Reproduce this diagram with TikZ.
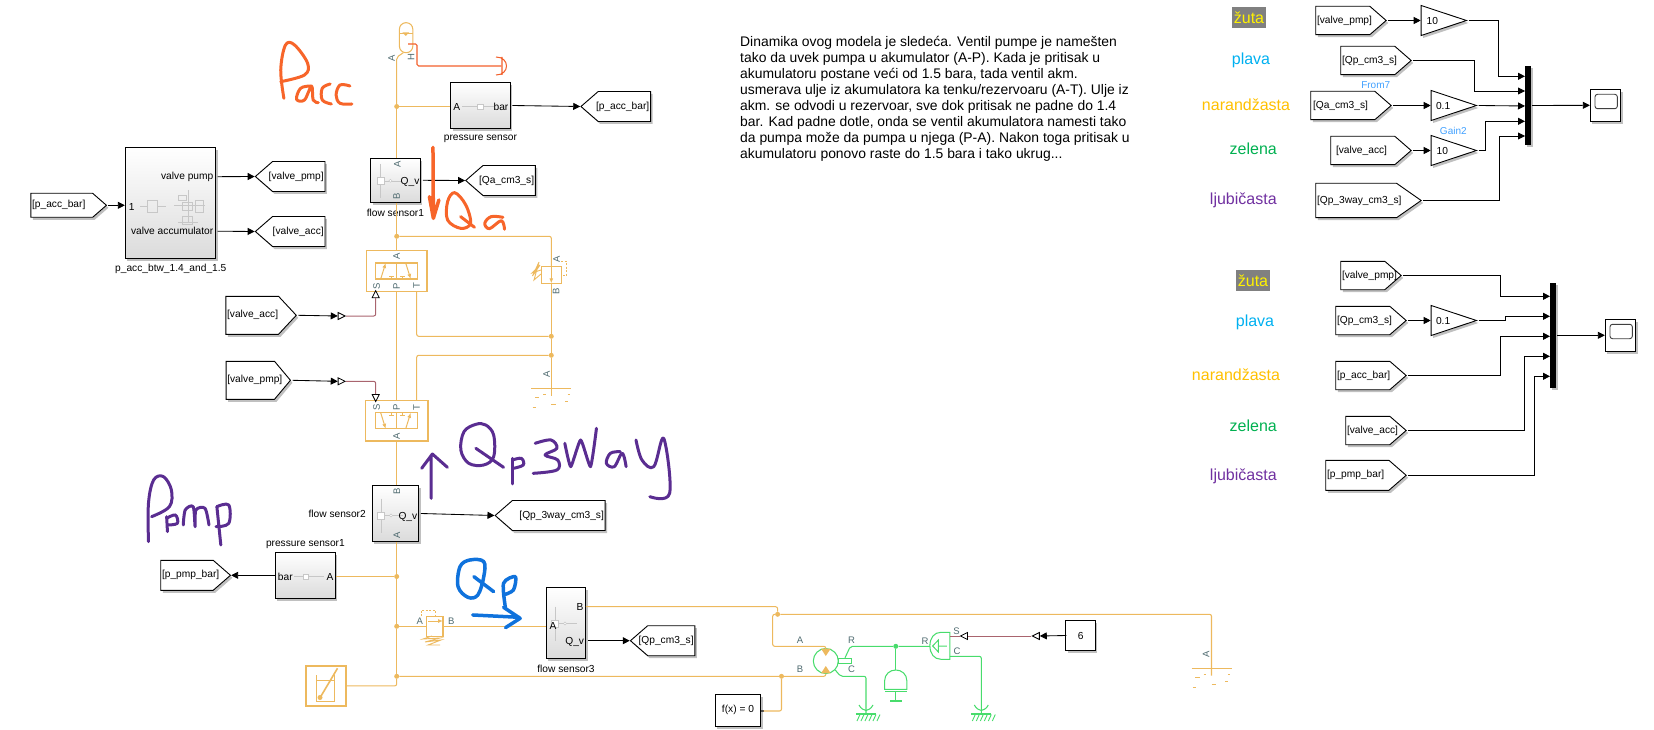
\documentclass[tikz,border=0pt]{standalone}
\usepackage{fontspec}
\setmainfont{Liberation Sans}
\usetikzlibrary{arrows.meta, calc, positioning, shadows, shapes.geometric, shapes.symbols}
\definecolor{hydro}{HTML}{EDB95E}
\definecolor{rotgreen}{HTML}{48DC6C}
\definecolor{thermred}{HTML}{F2602B}
\definecolor{physpink}{HTML}{A9646E}
\definecolor{porttext}{HTML}{4F6B70}
\definecolor{penorange}{HTML}{F7652A}
\definecolor{penpurple}{HTML}{5A2D91}
\definecolor{penblue}{HTML}{0F72DC}
\definecolor{notegray}{HTML}{808080}
\definecolor{tipblue}{HTML}{40A0FF}
\tikzset{
  simshadow/.style = {drop shadow = {shadow xshift = 2pt, shadow yshift = -2.5pt, fill = black!45, opacity = .55}},
  sig/.style = {line width = .85pt, -{Triangle[length = 7pt, width = 7pt]}},
  plainsig/.style = {line width = .85pt},
  hyd/.style = {draw = hydro, line width = 1.05pt, rounded corners = 2pt},
  rot/.style = {draw = rotgreen, line width = 1.05pt, rounded corners = 2pt},
  phys/.style = {draw = physpink, line width = 1pt, rounded corners = 2pt},
  jct/.style = {circle, fill = #1, inner sep = 0pt, minimum size = 5pt},
  jct/.default = hydro,
  block/.style = {rectangle, draw, fill = white, line width = .9pt, inner sep = 0pt, simshadow},
  subsys/.style = {rectangle, draw, line width = .9pt, inner sep = 0pt, top color = white, bottom color = black!14, simshadow},
  hydbox/.style = {rectangle, draw = hydro, line width = 1.3pt, fill = white, inner sep = 0pt},
  tagE/.style = {signal, signal to = east, draw, fill = white, line width = .9pt, inner sep = 0pt,
    minimum height = 28.4pt, signal pointer angle = 82, anchor = west, simshadow},
  tagW/.style = {signal, signal to = west, draw, fill = white, line width = .9pt, inner sep = 0pt,
    minimum height = 30pt, signal pointer angle = 82, anchor = east, simshadow},
  tagtext/.style = {font = \fontsize{10.2}{12}\selectfont, inner sep = 1.5pt},
  gain/.style = {isosceles triangle, isosceles triangle stretches, draw, fill = white, line width = .9pt, inner sep = 0pt,
    minimum height = 45.3pt, minimum width = 30pt, anchor = west, simshadow, font = \fontsize{10.2}{12}\selectfont},
  convtri/.style = {isosceles triangle, isosceles triangle stretches, draw, fill = white, line width = .8pt, inner sep = 0pt,
    minimum height = 7pt, minimum width = 7pt},
  muxbar/.style = {rectangle, fill = black, inner sep = 0pt, minimum width = 6pt, simshadow},
  blktext/.style = {font = \fontsize{10.2}{12}\selectfont, inner sep = 0pt},
  porttxt/.style = {font = \fontsize{9.5}{11}\selectfont, text = porttext, inner sep = 0pt},
  colorword/.style = {font = \fontsize{16}{18}\selectfont, inner sep = 0pt},
  smalltip/.style = {font = \fontsize{10}{12}\selectfont, text = tipblue, inner sep = 0pt},
  faint/.style = {draw = black!22, line width = .5pt},
  ink/.style = {line width = 3pt, line cap = round, line join = round},
  valvecore/.pic = {
    \draw[hydro, line width = 1.2pt] (-21.5,-8) rectangle (21,8) (-.5,-8) -- (-.5,8);
    \draw[hydro, line width = 1pt, -{Latex[length = 5pt, width = 4pt]}] (-16,8) -- (-11,-8);
    \draw[hydro, line width = 1pt, -{Latex[length = 5pt, width = 4pt]}] (9,-8) -- (14,8);
    \draw[hydro, line width = 1pt] (-5,8) -- (-5,5.5) (-7.5,5.5) -- (-2.5,5.5) (6,8) -- (6,5.5) (3.5,5.5) -- (8.5,5.5);
  },
  tanksym/.pic = {
    \draw[hydro, line width = 1pt] (-20,0) -- (20,0);
    \draw[hydro, line width = 1pt] (-16.3,9.4) -- (-12,9.4) (-8,5.7) -- (-5.3,5.7) (16.4,5.7) -- (18.7,5.7)
      (0,15.7) -- (4.7,15.7) (13.7,13) -- (16.4,13) (-18.6,19.4) -- (-15.6,19.4);
  },
  mechref/.pic = {
    \draw[rotgreen, line width = 1.05pt] (-7,-9) .. controls (-5,-5) and (-2,-4) .. (0,-3.5) .. controls (2,-4) and (5,-5) .. (7,-9);
    \draw[rotgreen, line width = 1.05pt] (-10,0) -- (10,0);
    \foreach \hx in {-8,-4,0,4,8,12}
      \draw[rotgreen, line width = .9pt] (\hx-1,7) -- (\hx+2,.5);
  },
  flowicon/.pic = {
    \draw[faint] (0,-17) -- (0,17) (0,0) -- (22,0);
    \draw[faint, fill = white] (-3.5,-3.5) rectangle (3.5,3.5);
    \draw[faint, fill = white] (10,0) circle (1.5);
  }
}
\begin{document}
\begin{tikzpicture}[x = 1pt, y = -1pt]
  \useasboundingbox (0,0) rectangle (1654,730);

  % note and colour words
  \node[anchor = north west, inner sep = 0pt, align = left, font = \fontsize{13.9}{16}\selectfont] (note) at (740,36.5)
    {Dinamika ovog modela je sledeća. Ventil pumpe je namešten\\
     tako da uvek pumpa u akumulator (A-P). Kada je pritisak u\\
     akumulatoru postane veći od 1.5 bara, tada ventil akm.\\
     usmerava ulje iz akumulatora ka tenku/rezervoaru (A-T). Ulje iz\\
     akm. se odvodi u rezervoar, sve dok pritisak ne padne do 1.4\\
     bar. Kad padne dotle, onda se ventil akumulatora namesti tako\\
     da pumpa može da pumpa u njega (P-A). Nakon toga pritisak u\\
     akumulatoru ponovo raste do 1.5 bara i tako ukrug...};

  \node[colorword, fill = notegray, text = yellow, minimum width = 33.5pt, minimum height = 20.5pt] (wordYa) at (1249,17.5) {žuta};
  \node[colorword, text = {rgb,255:red,0;green,176;blue,240}] (wordBa) at (1251,60) {plava};
  \node[colorword, text = {rgb,255:red,255;green,192;blue,0}] (wordOa) at (1246,104.7) {narandžasta};
  \node[colorword, text = {rgb,255:red,0;green,176;blue,80}] (wordGa) at (1253.3,149) {zelena};
  \node[colorword, text = {rgb,255:red,112;green,48;blue,160}] (wordPa) at (1243.3,200.7) {ljubičasta};
  \node[colorword, fill = notegray, text = yellow, minimum width = 33.5pt, minimum height = 20.5pt] (wordYb) at (1253,280.5) {žuta};
  \node[colorword, text = {rgb,255:red,0;green,176;blue,240}] (wordBb) at (1255,322.7) {plava};
  \node[colorword, text = {rgb,255:red,255;green,192;blue,0}] (wordOb) at (1236,374.3) {narandžasta};
  \node[colorword, text = {rgb,255:red,0;green,176;blue,80}] (wordGb) at (1253.3,425.7) {zelena};
  \node[colorword, text = {rgb,255:red,112;green,48;blue,160}] (wordPb) at (1243.3,476.7) {ljubičasta};

  % upper scope
  \node[tagE, minimum width = 70.4pt, label = {[tagtext, anchor = west]west:[valve\_pmp]}] (fromPmpA) at (1315.3,20.5) {};
  \node[tagE, minimum width = 70.4pt, label = {[tagtext, anchor = west]west:[Qp\_cm3\_s]}] (fromQpA) at (1340.3,60.5) {};
  \node[tagE, minimum width = 80.4pt, label = {[tagtext, anchor = west, xshift = 1pt]west:[Qa\_cm3\_s]}] (fromQaA) at (1310.3,105.5) {};
  \node[tagE, minimum width = 80.4pt, label = {[tagtext, anchor = west, xshift = 4pt]west:[valve\_acc]}] (fromAccA) at (1330.3,150.5) {};
  \node[tagE, minimum width = 105.4pt, minimum height = 34.4pt, signal pointer angle = 70, label = {[tagtext, anchor = west]west:[Qp\_3way\_cm3\_s]}] (from3wayA) at (1315.3,200.5) {};

  \node[gain] (gainPmp) at (1420.7,20.5) {10};
  \node[gain] (gainQa) at (1430.7,105.5) {0.1};
  \node[gain] (gainAcc) at (1430.7,150.5) {10};
  \node[smalltip] (tipFrom) at (1375.7,84.7) {From7};
  \node[smalltip] (tipGain) at (1453.3,130.7) {Gain2};

  \node[muxbar, minimum height = 79pt] (muxA) at (1528,105.5) {};
  \node[block, minimum width = 30.4pt, minimum height = 32pt] (scopeA) at (1605.5,105.3) {};
  \draw[line width = .9pt, rounded corners = 2.5pt, draw = black!75] (1595,94.3) rectangle (1617.3,108.7);

  \foreach \mx/\my/\mn in {1525/76.3/1, 1525/91/2, 1525/106/3, 1525/121.3/4, 1525/136/5}
    \coordinate (mA\mn) at (\mx,\my);

  \draw[sig] (fromPmpA.east) ++(1,0) -- (gainPmp.west);
  \draw[sig] (gainPmp.east) ++(1,0) -| (1498.3,76.3) -- (mA1);
  \draw[sig] (fromQpA.east) ++(1,0) -| (1474.7,91) -- (mA2);
  \draw[sig] (fromQaA.east) ++(1,0) -- (gainQa.west);
  \draw[sig] (gainQa.east) ++(1,0) -- (mA3);
  \draw[sig] (fromAccA.east) ++(1,0) -- (gainAcc.west);
  \draw[sig] (gainAcc.east) ++(1,0) -| (1485.3,121.3) -- (mA4);
  \draw[sig] (from3wayA.east) ++(1,0) -| (1499.3,136) -- (mA5);
  \draw[sig] (muxA.east) ++(1,0) -- (scopeA.west);

  % lower scope
  \node[tagE, minimum width = 60.4pt, label = {[tagtext, anchor = west]west:[valve\_pmp]}] (fromPmpB) at (1340.3,275.5) {};
  \node[tagE, minimum width = 70.4pt, label = {[tagtext, anchor = west]west:[Qp\_cm3\_s]}] (fromQpB) at (1335.3,320.5) {};
  \node[tagE, minimum width = 70.4pt, label = {[tagtext, anchor = west]west:[p\_acc\_bar]}] (fromBarB) at (1335.3,375.5) {};
  \node[tagE, minimum width = 60.4pt, label = {[tagtext, anchor = west]west:[valve\_acc]}] (fromAccB) at (1345.3,430.5) {};
  \node[tagE, minimum width = 80.4pt, minimum height = 30pt, label = {[tagtext, anchor = west]west:[p\_pmp\_bar]}] (fromPmpbarB) at (1325.3,475.3) {};

  \node[gain] (gainQp) at (1430.7,320.5) {0.1};
  \node[muxbar, minimum height = 104.7pt] (muxB) at (1553,335.3) {};
  \node[block, minimum width = 30.4pt, minimum height = 32pt] (scopeB) at (1620.5,335.3) {};
  \draw[line width = .9pt, rounded corners = 2.5pt, draw = black!75] (1610,324.3) rectangle (1632.3,338.7);

  \foreach \mx/\my/\mn in {1550/296.3/1, 1550/316.3/2, 1550/336.3/3, 1550/356.3/4, 1550/376.3/5}
    \coordinate (mB\mn) at (\mx,\my);

  \draw[sig] (fromPmpB.east) ++(1,0) -| (1500.3,296.3) -- (mB1);
  \draw[sig] (fromQpB.east) ++(1,0) -- (gainQp.west);
  \draw[sig] (gainQp.east) ++(1,0) -| (1505.3,316.3) -- (mB2);
  \draw[sig] (fromBarB.east) ++(1,0) -| (1500.3,336.3) -- (mB3);
  \draw[sig] (fromAccB.east) ++(1,0) -| (1524.3,356.3) -- (mB4);
  \draw[sig] (fromPmpbarB.east) ++(1,0) -| (1534.3,376.3) -- (mB5);
  \draw[sig] (muxB.east) ++(1,0) |- (scopeB.west);

  % subsystems
  \node[subsys, minimum width = 90.2pt, minimum height = 111pt] (logicBlk) at (170.4,202.8) {};
  \node[blktext, anchor = east] (lblVpump) at (213.5,176.7) {valve pump};
  \node[blktext, anchor = east] (lblVacc) at (213.5,231.2) {valve accumulator};
  \node[blktext] (lblOne) at (131.7,206.7) {1};
  \node[blktext] (lblLogic) at (170.8,269) {p\_acc\_btw\_1.4\_and\_1.5};
  \draw[faint] (140,206) -- (147,206) (157,206) -- (166,206) (174,205) -- (205,205) (188,190) -- (188,222) (178,222) -- (198,222);
  \draw[faint] (147,200) rectangle (157,212) (178,195) rectangle (186,200) (182,202) rectangle (192,210) (195,200) rectangle (203,212) (182,216) rectangle (192,224);

  \node[tagE, minimum width = 75.6pt, minimum height = 24pt, label = {[tagtext, anchor = west]west:[p\_acc\_bar]}] (fromBarL) at (30.4,205.3) {};
  \node[tagW, minimum width = 69.6pt, label = {[tagtext, anchor = east]east:[valve\_pmp]}] (gotoPmp) at (325.4,176.5) {};
  \node[tagW, minimum width = 69.6pt, label = {[tagtext, anchor = east]east:[valve\_acc]}] (gotoAcc) at (325.4,231.5) {};
  \draw[sig] (fromBarL.east) ++(1,0) -- (logicBlk.west |- fromBarL.east);
  \draw[sig] (lblVpump.east) ++(4,0) -- (gotoPmp.west);
  \draw[sig] (lblVacc.east) ++(4,0) -- (gotoAcc.west);

  \node[subsys, minimum width = 59.2pt, minimum height = 45.3pt] (pressA) at (480.4,105.5) {};
  \node[blktext] (lblPaA) at (456.7,106.5) {A};
  \node[blktext] (lblPaBar) at (501,106.5) {bar};
  \node[blktext] (lblPa) at (480.4,139) {pressure sensor};
  \draw[faint] (462,106.3) -- (494,106.3);
  \draw[faint, fill = white] (477.5,104) rectangle (483,109);
  \node[tagW, minimum width = 69.6pt, label = {[tagtext, anchor = east]east:[p\_acc\_bar]}] (gotoBar) at (651,106.5) {};
  \draw[sig] (pressA.east) ++(2,0) -- (gotoBar.west);

  \node[subsys, minimum width = 49.8pt, minimum height = 44pt] (flowA) at (395.4,180.3) {};
  \pic at (380.4,180.8) {flowicon};
  \node[blktext] (lblFaQ) at (410,181.5) {Q\_v};
  \node[blktext] (lblFa) at (395.4,212.7) {flow sensor1};
  \node[tagW, minimum width = 69.6pt, label = {[tagtext, anchor = east]east:[Qa\_cm3\_s]}] (gotoQa) at (535.8,180.5) {};
  \draw[sig] (flowA.east) ++(2,0) -- (gotoQa.west);

  \node[subsys, minimum width = 46.2pt, minimum height = 55.6pt] (flowB) at (395.4,513.5) {};
  \pic at (381,515.5) {flowicon};
  \node[blktext] (lblFbQ) at (407.9,516.7) {Q\_v};
  \node[blktext, anchor = east] (lblFb) at (366,513.7) {flow sensor2};
  \node[tagW, minimum width = 110pt, label = {[tagtext, anchor = east]east:[Qp\_3way\_cm3\_s]}] (goto3way) at (605.6,515.5) {};
  \draw[sig] (flowB.east) ++(2,0) -- (goto3way.west);

  \node[subsys, minimum width = 60.1pt, minimum height = 46pt] (pressB) at (305.4,575.3) {};
  \node[blktext] (lblPbA) at (330,576.7) {A};
  \node[blktext] (lblPbBar) at (285.3,576.7) {bar};
  \node[blktext] (lblPb) at (305.4,544) {pressure sensor1};
  \draw[faint] (294,576.3) -- (324,576.3);
  \draw[faint, fill = white] (303,574) rectangle (308,579);
  \node[tagE, minimum width = 69.7pt, minimum height = 30pt, label = {[tagtext, anchor = west]west:[p\_pmp\_bar]}] (gotoPbar) at (160.3,575.3) {};
  \draw[sig] (pressB.west) -- (gotoPbar.east);

  \node[subsys, minimum width = 39.5pt, minimum height = 71.4pt] (flowC) at (566,623) {};
  \pic at (555,623.5) {flowicon};
  \node[blktext] (lblFcQ) at (574.7,641.7) {Q\_v};
  \node[blktext] (lblFcB) at (579.9,606.7) {B};
  \node[blktext] (lblFcA) at (553,626.3) {A};
  \node[blktext] (lblFc) at (566,669) {flow sensor3};
  \node[tagW, minimum width = 64.4pt, label = {[tagtext, anchor = east]east:[Qp\_cm3\_s]}] (gotoQp) at (695.3,640.7) {};
  \draw[sig] (flowC.east |- gotoQp.west) ++(2,0) -- (gotoQp.west);

  % hydraulic side
  \foreach \jn/\jx/\jy in {jAcc/396.7/106.5, jTop/396.7/236.3, jRet/551.3/336.3, jRetb/551.3/355.3, jPp/396.7/576.5,
      jChk/396.7/626.3, jTnk/396.7/676.3, jMotor/777.6/614.3, jSolver/781.5/676.3}
    \node[jct] (\jn) at (\jx,\jy) {};

  \node[draw = hydro, line width = 1.05pt, rounded corners = 6.5pt, fill = white, inner sep = 0pt, minimum width = 13.4pt, minimum height = 30pt] (accum) at (406.1,37.7) {};
  \draw[hydro, line width = .8pt] (399.4,33.5) -- (412.8,33.5);
  \fill[hydro] (402.5,32.5) -- (409,32.5) -- (405.8,36) -- cycle;
  \coordinate (accA) at (403.3,52.7);
  \draw[hyd] (accA) -- (396.7,57.3) -- (jAcc);
  \draw[hyd] (jAcc) -- (pressA.west |- jAcc);
  \draw[hyd] (jAcc) -- (jAcc |- flowA.north);
  \draw[hyd] (jTop |- flowA.south) -- (jTop);

  \coordinate (accH) at (408,44);
  \node[inner sep = 0pt] (thermRef) at (502,66) {};
  \draw[thermred, line width = 1.05pt, rounded corners = 1.5pt] (accH) -| (417,66) -- (thermRef);
  \draw[thermred, line width = 1.05pt] (502,57) -- (502,75) (496,57) .. controls (510,57) and (510,75) .. (496,75);

  \node[hydbox, minimum width = 60.5pt, minimum height = 40.5pt] (valveAcc) at (396.7,271) {};
  \pic at (396.7,271) {valvecore};
  \node[hydbox, minimum width = 62.5pt, minimum height = 40.5pt] (valvePmp) at (396.7,420.8) {};
  \pic[yscale = -1] at (396.7,420.8) {valvecore};
  \draw[hyd] (jTop) -- (valveAcc.north);
  \draw[hyd] (valveAcc.south) -- (valvePmp.north);
  \draw[hyd] (valvePmp.south) -- (jPp |- flowB.north);
  \draw[hyd] (jPp |- flowB.south) -- (jPp) -- (jChk) -- (jTnk);

  \node[draw = hydro, line width = 1.05pt, inner sep = 0pt, fill = white, minimum width = 20pt, minimum height = 16.6pt] (relief) at (551.3,275) {};
  \draw[hyd] (jTop) -| (relief.north);
  \draw[hyd] (relief.south) -- (jRet) -- (jRetb);
  \draw[hydro, line width = 1pt, -{Latex[length = 5pt, width = 4pt]}] (551.3,266.7) -- (551.3,283.3);
  \draw[hydro, line width = 1pt, dashed, dash pattern = on 2pt off 1.5pt] (561,261.7) -- (566.7,261.7) -- (566.7,275) -- (561,275);
  \draw[hydro, line width = .9pt] (541,270) -- (532,273) -- (540,265) -- (532.5,276) -- (539,262) -- (534,280) -- (541,274);
  \coordinate (vaT) at (416.7,291.3);
  \coordinate (vpT) at (416.7,400.6);
  \draw[hyd] (vaT) |- (jRet);
  \draw[hyd] (jRetb) -| (vpT);
  \coordinate (tankA) at (551.3,395.7);
  \draw[hyd] (jRetb) -- (tankA);
  \pic at (551.3,388.3) {tanksym};

  \node[convtri, shape border rotate = 90] (inValveA) at (375.7,295.5) {};
  \node[convtri] (cvValveA) at (340.3,316) {};
  \node[convtri, shape border rotate = 270] (inValveP) at (375.7,396.7) {};
  \node[convtri] (cvValveP) at (340.3,381.3) {};
  \draw[phys] (cvValveA.east) -| (inValveA.south);
  \draw[phys] (cvValveP.east) -| (inValveP.north);
  \node[tagE, minimum width = 70.4pt, minimum height = 38pt, signal pointer angle = 94, label = {[tagtext, anchor = west]west:[valve\_acc]}] (fromAcc) at (225.4,315.3) {};
  \node[tagE, minimum width = 64.4pt, minimum height = 38pt, signal pointer angle = 100, label = {[tagtext, anchor = west]west:[valve\_pmp]}] (fromPmp) at (225.6,380.3) {};
  \draw[sig] (fromAcc.east) ++(1.5,0) -- (cvValveA.west);
  \draw[sig] (fromPmp.east) ++(1.5,0) -- (cvValveP.west);

  \draw[hyd] (jPp) -- (pressB.east |- jPp);

  \node[draw = hydro, line width = 1.05pt, fill = white, inner sep = 0pt, minimum width = 16.6pt, minimum height = 20.3pt] (chkValve) at (434.7,626.3) {};
  \draw[hyd] (jChk) -- (chkValve.west);
  \draw[hyd] (chkValve.east) -- (flowC.west |- chkValve.east);
  \draw[hydro, line width = 1pt, -{Latex[length = 5pt, width = 4pt]}] (428,621) -- (443,621);
  \draw[hydro, line width = 1pt, dash pattern = on 2pt off 1.5pt] (421.3,616) -- (421.3,610) -- (435,610) -- (435,616);
  \draw[hydro, line width = .9pt] (432,636) -- (423,639) -- (440,638) -- (425,642) -- (441,640) -- (428,645) -- (440,645);

  \node[draw = hydro, line width = 1.6pt, fill = white, inner sep = 0pt, minimum width = 40.4pt, minimum height = 40.3pt] (tankBlk) at (326,685.9) {};
  \draw[hydro, line width = 1pt] (316.5,675) -- (316.5,701.7) -- (334.7,701.7) -- (334.7,675) (316.5,680) -- (334.7,680);
  \draw[hydro, line width = 1.6pt] (319.7,698.3) -- (337.5,668.3);
  \fill[hydro] (320,697.5) circle (2.5);
  \draw[hyd] (tankBlk.east) -| (jTnk);

  \node[draw = rotgreen, circle, line width = 1.05pt, fill = white, inner sep = 0pt, minimum size = 25pt] (motorU) at (825.8,661) {};
  \fill[hydro] (821,648.7) -- (830.6,648.7) -- (825.8,656) -- cycle (821,673.3) -- (830.6,673.3) -- (825.8,666) -- cycle;
  \node[draw = rotgreen, line width = 1.05pt, fill = white, inner sep = 0pt, minimum width = 13pt, minimum height = 5.4pt] (motorShaft) at (845,661) {};

  \coordinate (fcB) at (585.8,606.7);
  \coordinate (tankB) at (1211.5,675.7);
  \draw[hyd] (fcB) -| (jMotor);
  \draw[hyd] (jMotor) -| (tankB);
  \draw[hyd] (jMotor) -| (772.7,646.3) -| (motorU.north);
  \draw[hyd] (jTnk) -- (jSolver) -| (motorU.south);
  \pic at (1211.5,668.3) {tanksym};

  \node[block, minimum width = 45.7pt, minimum height = 32pt, font = \fontsize{10.2}{12}\selectfont] (solver) at (738,710.3) {f(x) = 0};
  \node[fill = black!70, inner sep = 0pt, minimum size = 2.6pt] (solverP) at (762.2,711) {};
  \draw[hyd] (solverP) -| (jSolver);

  % rotational side
  \node[jct = rotgreen] (jRot) at (895.8,646.3) {};
  \coordinate (torqueR) at (929.9,646.3);
  \coordinate (torqueC) at (949.8,656.3);
  \coordinate (torqueS) at (949.8,636);
  \draw[rot] (motorShaft.north) -- (850.4,646.3) -- (jRot) -- (torqueR);
  \draw[rot] (835.2,670) -- (840.6,676.3) -| (866,713.3);
  \draw[rot] (torqueC) -| (981.3,713.3);
  \pic at (866,714) {mechref};
  \pic at (981.3,714) {mechref};
  \draw[rotgreen, line width = 1.05pt] (949.8,632.3) -- (941,632.3) .. controls (934,632.3) and (929.9,638) .. (929.9,645.8)
    .. controls (929.9,653.5) and (934,659.3) .. (941,659.3) -- (949.8,659.3) -- cycle;
  \draw[rotgreen, line width = 1pt] (938.4,640) -- (932.6,646) -- (938.4,652) -- cycle (938.4,646) -- (946.8,646);
  \coordinate (inertiaTop) at (895.8,670);
  \draw[rot] (jRot) -- (inertiaTop);
  \draw[rotgreen, line width = 1.05pt] (884.6,689.3) -- (884.6,681) .. controls (884.6,674) and (890,670) .. (895.8,670)
    .. controls (901.5,670) and (906.9,674) .. (906.9,681) -- (906.9,689.3) -- cycle;
  \draw[rotgreen, line width = 1.05pt] (885,691.3) -- (906.9,691.3) (895.8,691.3) -- (895.8,701) (890.3,701) -- (902.2,701);

  \node[convtri, shape border rotate = 180] (cvTorque) at (965.4,636) {};
  \node[convtri, shape border rotate = 180] (cvConst) at (1037.2,636) {};
  \draw[phys] (torqueS) -- (cvTorque.west);
  \draw[phys] (cvTorque.east) -- (cvConst.west);
  \node[block, minimum width = 29.7pt, minimum height = 30pt, font = \fontsize{10.2}{12}\selectfont] (constSix) at (1080.6,635.5) {6};
  \draw[sig] (constSix.west) ++(1,0) -- (cvConst.east);

  % port letters
  \foreach \pn/\px/\py/\pt in {pA/391.5/58/A, pB/411/57.5/H, pC/397.4/164.3/A, pD/396.6/196.7/B, pE/396.7/256/A,
      pF/376.7/286/S, pG/396.7/286/P, pH/416.7/286/T, pI/376.7/407.3/S, pJ/396.7/407.3/P, pK/416.7/407.3/T,
      pL/396.7/436.7/A, pM/396.8/491.7/B, pN/396.8/535.7/A, pO/556.7/259.3/A, pQ/556/291.7/B, pR/546.7/374/A, pS/1206/654.3/A}
    \node[porttxt, rotate = 90] (\pn) at (\px,\py) {\pt};
  \foreach \pn/\px/\py/\pt in {pT/419.7/621/A, pU/451.4/621/B, pV/800/640/A, pW/800/669.3/B, pX/851.5/640/R,
      pY/851.5/669.3/C, pZ/925/641/R, pAA/956.6/631/S, pAB/957/651/C}
    \node[porttxt] (\pn) at (\px,\py) {\pt};

  % handwriting
  \begin{scope}[xscale = .3954, yscale = .3333]
    \draw[ink, penorange] plot[smooth, tension = .6] coordinates {(718,295) (710,210) (722,135) (745,135) (778,190) (770,225) (710,245)};
    \draw[ink, penorange] plot[smooth, tension = .6] coordinates {(785,258) (760,265) (750,298) (770,300) (788,258) (792,300) (805,308)};
    \draw[ink, penorange] plot[smooth, tension = .6] coordinates {(835,252) (815,265) (815,300) (838,312)};
    \draw[ink, penorange] plot[smooth, tension = .6] coordinates {(885,258) (860,255) (850,285) (860,310) (890,312)};
    \draw[ink, penorange, line width = 3.5pt] (1095,442) -- (1096,655) (1086,590) -- (1096,655) -- (1110,600);
    \draw[ink, penorange] plot[smooth cycle, tension = .6] coordinates {(1150,578) (1132,605) (1132,660) (1165,685) (1190,670) (1178,615)};
    \draw[ink, penorange] (1165,650) -- (1200,682);
    \draw[ink, penorange] plot[smooth, tension = .6] coordinates {(1272,652) (1242,650) (1226,670) (1238,686) (1268,662) (1276,688)};
  \end{scope}
  \begin{scope}[shift = {(120,360)}, xscale = .3954, yscale = .3333]
    \draw[ink, penpurple] (787,415) -- (787,285) (763,325) -- (790,282) -- (828,322);
    \draw[ink, penpurple] plot[smooth cycle, tension = .6] coordinates {(900,193) (870,215) (862,270) (882,310) (920,315) (945,290) (945,225) (925,195)};
    \draw[ink, penpurple] (900,265) -- (970,322);
    \draw[ink, penpurple] (993,295) -- (993,372);
    \draw[ink, penpurple] plot[smooth, tension = .6] coordinates {(993,300) (1015,295) (1020,315) (995,325)};
    \draw[ink, penpurple] plot[smooth, tension = .6] coordinates {(1050,250) (1090,240) (1105,265) (1075,285) (1107,300) (1105,330) (1045,340)};
    \draw[ink, penpurple] plot[smooth, tension = .3] coordinates {(1125,250) (1140,320) (1165,240) (1190,320) (1205,205)};
    \draw[ink, penpurple] plot[smooth, tension = .6] coordinates {(1265,275) (1240,280) (1230,310) (1250,320) (1270,280) (1280,320)};
    \draw[ink, penpurple] plot[smooth, tension = .6] coordinates {(1305,240) (1320,300) (1350,320) (1375,235) (1390,400) (1340,410)};
    \draw[ink, penpurple] plot[smooth, tension = .6] coordinates {(72,545) (72,430) (85,360) (110,350) (130,390) (125,440) (80,470)};
    \draw[ink, penpurple] (118,470) -- (120,515);
    \draw[ink, penpurple] plot[smooth, tension = .6] coordinates {(118,475) (140,465) (145,490) (120,495)};
    \draw[ink, penpurple] plot[smooth, tension = .5] coordinates {(160,495) (165,450) (185,440) (190,500) (192,450) (215,445) (225,495)};
    \draw[ink, penpurple] (255,555) -- (245,440);
    \draw[ink, penpurple] plot[smooth, tension = .6] coordinates {(245,440) (275,435) (275,490) (243,500)};
    \draw[ink, penblue, line width = 3.5pt] plot[smooth cycle, tension = .6] coordinates {(885,600) (860,620) (855,680) (880,712) (905,705) (920,650) (920,605)};
    \draw[ink, penblue, line width = 3.5pt] (895,650) -- (945,695);
    \draw[ink, penblue, line width = 3.5pt] plot[smooth, tension = .5] coordinates {(975,745) (970,670) (1000,650) (995,690) (970,705)};
    \draw[ink, penblue, line width = 3.5pt] (892,765) -- (1010,772) (970,742) -- (1012,775) -- (975,803);
  \end{scope}
\end{tikzpicture}
\end{document}
